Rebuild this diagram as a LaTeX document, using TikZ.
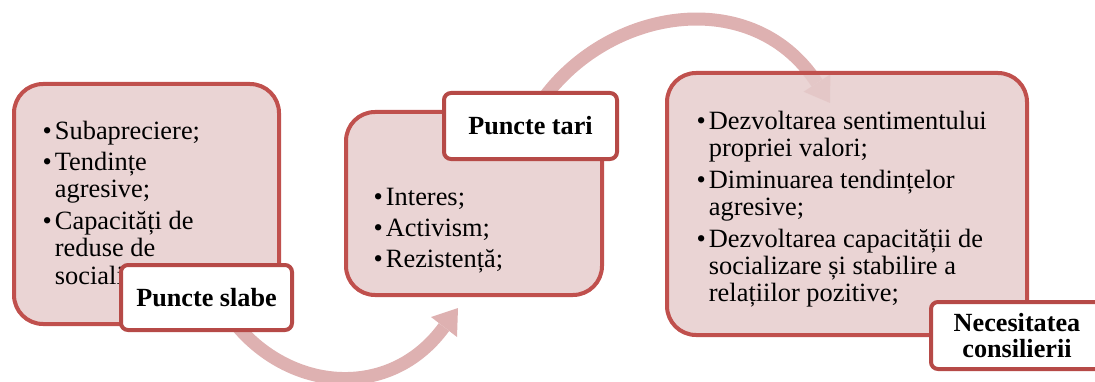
\documentclass[tikz,border=0pt]{standalone}
\usepackage{fontspec}
\setmainfont{Liberation Serif}
\definecolor{boxline}{RGB}{192,80,77}
\definecolor{labline}{RGB}{182,74,71}
\definecolor{boxfill}{RGB}{230,204,204}
\definecolor{arrowc}{RGB}{222,177,177}
\tikzset{
  bigbox/.style={draw=boxline, line width=4pt, fill=boxfill, fill opacity=0.85,
    text opacity=1, rounded corners=29pt, inner sep=0pt, anchor=south west},
  labelbox/.style={draw=labline, line width=4pt, fill=white, rounded corners=7pt,
    inner sep=0pt, anchor=south west, align=center,
    font=\bfseries\fontsize{26.2}{26.7}\selectfont},
  listtext/.style={inner sep=0pt, anchor=base west,
    font=\fontsize{26.4}{27.2}\selectfont},
  shaft/.style={draw=arrowc, line width=13pt},
  arrowhead/.style={fill=arrowc},
}
\newcommand{\bul}{\textbullet}
\begin{document}
\begin{tikzpicture}[x=1pt,y=1pt]
\useasboundingbox (0,0) rectangle (1095,381);
\clip (0,0) rectangle (1095,381);

% arrows (under the boxes)
\coordinate (a1s) at (233,60);
\coordinate (a1b) at (444,54);
\coordinate (a1t) at (458,73);
\coordinate (a1l) at (431,64);
\coordinate (a1r) at (457,44);
\draw[shaft] (a1s) to[out=-52,in=-126,looseness=1.1] (a1b);
\fill[arrowhead] (a1l) -- (a1t) -- (a1r) -- cycle;

\coordinate (a2s) at (532,265);
\coordinate (a2b) at (817,298);
\coordinate (a2t) at (830,278);
\coordinate (a2l) at (803.6,289.3);
\coordinate (a2r) at (830.4,306.7);
\draw[shaft] (a2s) to[out=60,in=123,looseness=1.1] (a2b);
\fill[arrowhead] (a2l) -- (a2t) -- (a2r) -- cycle;

% box 1
\node[bigbox, minimum width=265pt, minimum height=240pt] (b1) at (12,55) {};
\node[listtext] (t1) at (42.5,242) {\begin{tabular}[t]{@{}l@{\hspace{3pt}}l@{}}
\bul & Subapreciere;\\[4.6pt]
\bul & Tendințe\\
     & agresive;\\[4.6pt]
\bul & Capacități de\\
     & reduse de\\
     & socializare;
\end{tabular}};
\node[labelbox, minimum width=171pt, minimum height=65pt] (l1) at (119,49) {Puncte slabe};

% box 2
\node[bigbox, minimum width=256pt, minimum height=183pt] (b2) at (344,84) {};
\node[listtext] (t2) at (373.5,176) {\begin{tabular}[t]{@{}l@{\hspace{3pt}}l@{}}
\bul & Interes;\\[3.8pt]
\bul & Activism;\\[3.8pt]
\bul & Rezistență;
\end{tabular}};
\node[labelbox, minimum width=173pt, minimum height=66pt] (l2) at (442,220) {Puncte tari};

% box 3
\node[bigbox, minimum width=360pt, minimum height=262pt] (b3) at (665,44) {};
\node[listtext] (t3) at (696.5,251.7) {\begin{tabular}[t]{@{}l@{\hspace{3pt}}l@{}}
\bul & Dezvoltarea sentimentului\\
     & propriei valori;\\[4.6pt]
\bul & Diminuarea tendințelor\\
     & agresive;\\[4.6pt]
\bul & Dezvoltarea capacității de\\
     & socializare și stabilire a\\
     & relațiilor pozitive;
\end{tabular}};
\node[labelbox, minimum width=172pt, minimum height=67pt] (l3) at (929,10) {Necesitatea\\consilierii};
\end{tikzpicture}
\end{document}
